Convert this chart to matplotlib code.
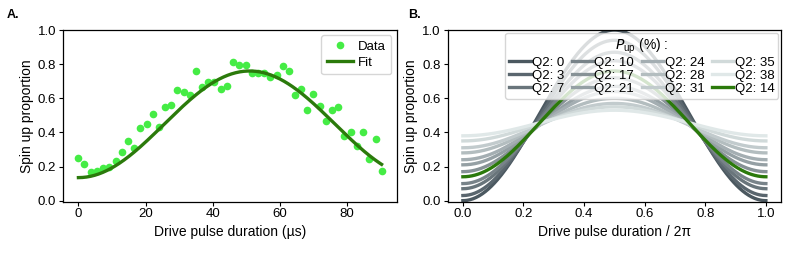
import numpy as np
import matplotlib
matplotlib.use('Agg')
import matplotlib.pyplot as plt
from matplotlib.colors import to_rgb

plt.rcParams['font.family'] = ['Liberation Sans', 'DejaVu Sans']
plt.rcParams['font.size'] = 10
plt.rcParams['mathtext.fontset'] = 'custom'
plt.rcParams['mathtext.rm'] = 'Liberation Sans'

# panel A: measured Rabi oscillation (us, proportion)
t_us = [0.0, 1.8, 3.7, 5.5, 7.4, 9.2, 11.1, 12.9, 14.7, 16.6,
        18.4, 20.3, 22.1, 24.0, 25.8, 27.6, 29.5, 31.3, 33.2, 35.0,
        36.9, 38.7, 40.5, 42.4, 44.2, 46.1, 47.9, 49.8, 51.6, 53.4,
        55.3, 57.1, 59.0, 60.8, 62.7, 64.5, 66.3, 68.2, 70.0, 71.9,
        73.7, 75.6, 77.4, 79.2, 81.1, 82.9, 84.8, 86.6, 88.5, 90.3]
spin_up = [0.251, 0.216, 0.170, 0.174, 0.194, 0.195, 0.230, 0.288, 0.349, 0.308,
           0.423, 0.450, 0.510, 0.430, 0.551, 0.560, 0.647, 0.634, 0.620, 0.762,
           0.667, 0.698, 0.698, 0.653, 0.672, 0.814, 0.793, 0.793, 0.750, 0.747,
           0.747, 0.723, 0.735, 0.788, 0.762, 0.618, 0.653, 0.532, 0.624, 0.556,
           0.468, 0.532, 0.548, 0.380, 0.400, 0.323, 0.400, 0.245, 0.364, 0.175]

# fitted sinusoid: offset - amp * cos(2 pi t / period)
fit_offset = 0.4475
fit_amp = 0.3125
fit_period = 102.0

# panel B: simulated curves for Q2 spin-up proportion
q2_gray = [0, 3, 7, 10, 17, 21, 24, 28, 31, 35, 38]
peak_gray = [1.00, 0.94, 0.87, 0.82, 0.72, 0.67, 0.64, 0.60, 0.57, 0.55, 0.53]
q2_fit = 14
peak_fit = 0.76

DARK = '#4b5860'
LIGHT = '#e0e8e8'
FIT_GREEN = '#2b7a0b'
DATA_GREEN = '#45ec45'

fig = plt.figure(figsize=(7.93, 2.59), dpi=100)
axA = fig.add_axes([0.0798, 0.222, 0.4205, 0.662])
axB = fig.add_axes([0.5646, 0.222, 0.4203, 0.662])

# ---- A
tt = np.linspace(0, t_us[-1], 300)
axA.plot(t_us, spin_up, 'o', color=DATA_GREEN, ms=5.5, mew=0, label='Data')
axA.plot(tt, fit_offset - fit_amp * np.cos(2 * np.pi * tt / fit_period),
         color=FIT_GREEN, lw=2.4, label='Fit')
axA.set_ylim(-0.005, 1.0)
axA.set_xticks([0, 20, 40, 60, 80])
axA.set_yticks([0, 0.2, 0.4, 0.6, 0.8, 1.0])
axA.set_xlabel('Drive pulse duration (µs)', labelpad=3)
axA.set_ylabel('Spin up proportion', labelpad=3)
axA.legend(loc='upper right', fontsize=9.5, handlelength=2.0,
           handletextpad=0.4, borderaxespad=0.4, labelspacing=0.3)

# ---- B
ph = np.linspace(0, 1, 300)
c0 = np.array(to_rgb(DARK))
c1 = np.array(to_rgb(LIGHT))
handles = []
for i, (q, pk) in enumerate(zip(q2_gray, peak_gray)):
    f = i / (len(q2_gray) - 1)
    col = c0 + (c1 - c0) * f
    p = q / 100.0
    ln, = axB.plot(ph, p + (pk - p) * np.sin(np.pi * ph) ** 2,
                   color=col, lw=2.4, label='Q2: %d' % q)
    handles.append(ln)
p = q2_fit / 100.0
ln, = axB.plot(ph, p + (peak_fit - p) * np.sin(np.pi * ph) ** 2,
               color=FIT_GREEN, lw=2.4, label='Q2: %d' % q2_fit)
handles.append(ln)

axB.set_ylim(-0.005, 1.0)
axB.set_xticks([0, 0.2, 0.4, 0.6, 0.8, 1.0])
axB.set_yticks([0, 0.2, 0.4, 0.6, 0.8, 1.0])
axB.set_xlabel('Drive pulse duration / 2π', labelpad=3)
axB.set_ylabel('Spin up proportion', labelpad=3)
axB.legend(handles=handles, loc='upper right', ncol=4, fontsize=9.5,
           title=r'$P_{\rm up}$ (%) :', title_fontsize=10,
           handlelength=1.6, handletextpad=0.1, columnspacing=0.6,
           labelspacing=0.05, borderaxespad=0.2, borderpad=0.3)

for ax in (axA, axB):
    ax.tick_params(direction='out', length=3, width=0.8, labelsize=9.5, pad=2)
    for s in ax.spines.values():
        s.set_linewidth(0.9)

fig.text(0.009, 0.93, 'A.', fontsize=9, fontweight='bold')
fig.text(0.515, 0.93, 'B.', fontsize=9, fontweight='bold')

fig.savefig('out.png', dpi=100)
